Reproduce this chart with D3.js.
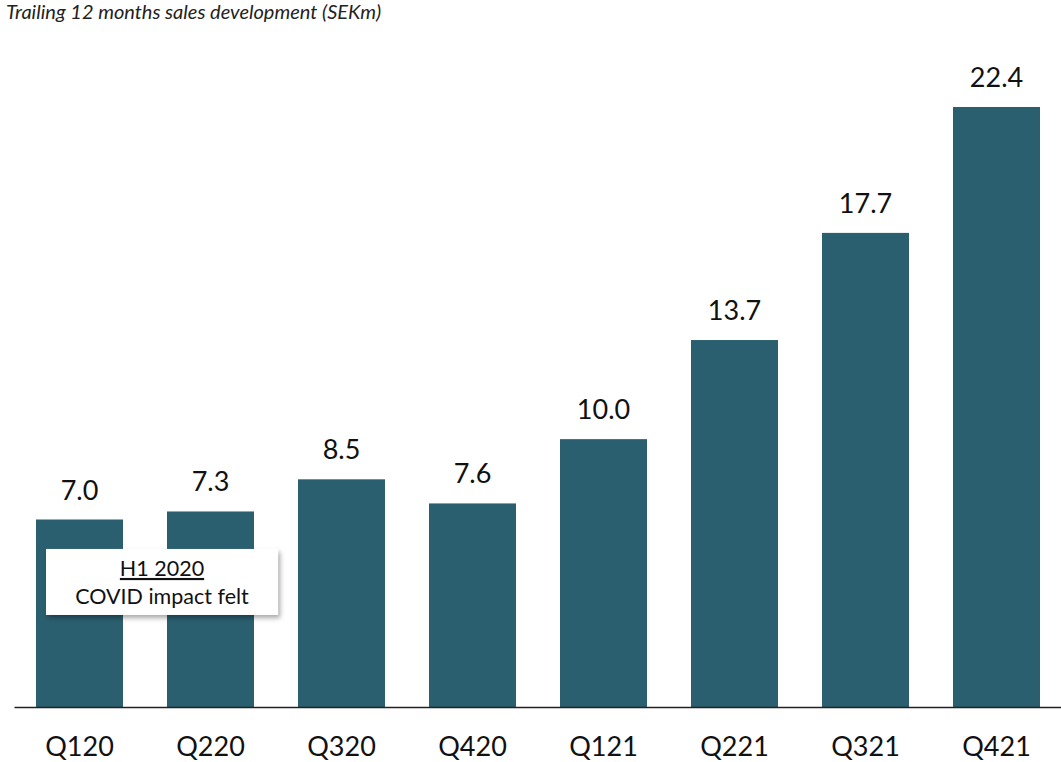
<!DOCTYPE html>
<html>
<head>
<meta charset="utf-8">
<script src="https://cdn.jsdelivr.net/npm/d3@7"></script>
<style>
  body { margin: 0; background: #fff; }
  svg { display: block; font-family: Lato, "Open Sans", sans-serif; }
</style>
</head>
<body>
<svg id="chart" width="1061" height="762"></svg>
<script>
// values
var quarters = ["Q120", "Q220", "Q320", "Q420", "Q121", "Q221", "Q321", "Q421"];
var sales = [7.0, 7.3, 8.5, 7.6, 10.0, 13.7, 17.7, 22.4];
var title = "Trailing 12 months sales development (SEKm)";
var noteLines = ["H1 2020", "COVID impact felt"];

var svg = d3.select("#chart");
var barColor = "#2a5f6f";

var x = d3.scaleBand()
  .domain(quarters)
  .range([14, 1062])
  .paddingInner(0.336)
  .paddingOuter(0.168);

var y = d3.scaleLinear()
  .domain([0, 22.4])
  .range([707, 107]);

svg.append("text")
  .attr("x", 6)
  .attr("y", 19)
  .attr("font-size", 20)
  .attr("font-style", "italic")
  .attr("fill", "#222")
  .text(title);

var bars = svg.append("g");
bars.selectAll("rect")
  .data(sales)
  .enter()
  .append("rect")
    .attr("x", function(d, i){ return x(quarters[i]); })
    .attr("y", function(d){ return y(d); })
    .attr("width", x.bandwidth())
    .attr("height", function(d){ return y(0) - y(d); })
    .attr("fill", barColor);

bars.selectAll("text")
  .data(sales)
  .enter()
  .append("text")
    .attr("x", function(d, i){ return x(quarters[i]) + x.bandwidth()/2; })
    .attr("y", function(d){ return y(d) - 20; })
    .attr("text-anchor", "middle")
    .attr("font-size", 27)
    .attr("fill", "#111")
    .text(function(d){ return d.toFixed(1); });

// baseline + category labels
var axis = svg.append("g")
  .attr("transform", "translate(0," + y(0) + ")")
  .call(d3.axisBottom(x).tickSize(0).tickPadding(30));
axis.select(".domain").attr("stroke", "#222").attr("stroke-width", 1.5);
axis.selectAll("text")
  .attr("font-size", 27)
  .attr("font-family", "Lato, 'Open Sans', sans-serif")
  .attr("fill", "#111");

// annotation box
var defs = svg.append("defs");
var f = defs.append("filter").attr("id", "shadow")
  .attr("x", "-10%").attr("y", "-10%").attr("width", "130%").attr("height", "140%");
f.append("feDropShadow")
  .attr("dx", 2).attr("dy", 3).attr("stdDeviation", 2.5)
  .attr("flood-color", "#000").attr("flood-opacity", 0.35);

var bx = x(quarters[0]) + 10, by = y(5.9);
var note = svg.append("g").attr("transform", "translate(" + bx + "," + by + ")");
note.append("rect")
  .attr("width", 232)
  .attr("height", 66)
  .attr("fill", "#fff")
  .attr("filter", "url(#shadow)");
note.selectAll("text")
  .data(noteLines)
  .enter()
  .append("text")
    .attr("x", 116)
    .attr("y", function(d, i){ return 27 + i*28; })
    .attr("text-anchor", "middle")
    .attr("font-size", 21.5)
    .attr("fill", "#111")
    .attr("text-decoration", function(d, i){ return i === 0 ? "underline" : null; })
    .text(function(d){ return d; });
</script>
</body>
</html>
